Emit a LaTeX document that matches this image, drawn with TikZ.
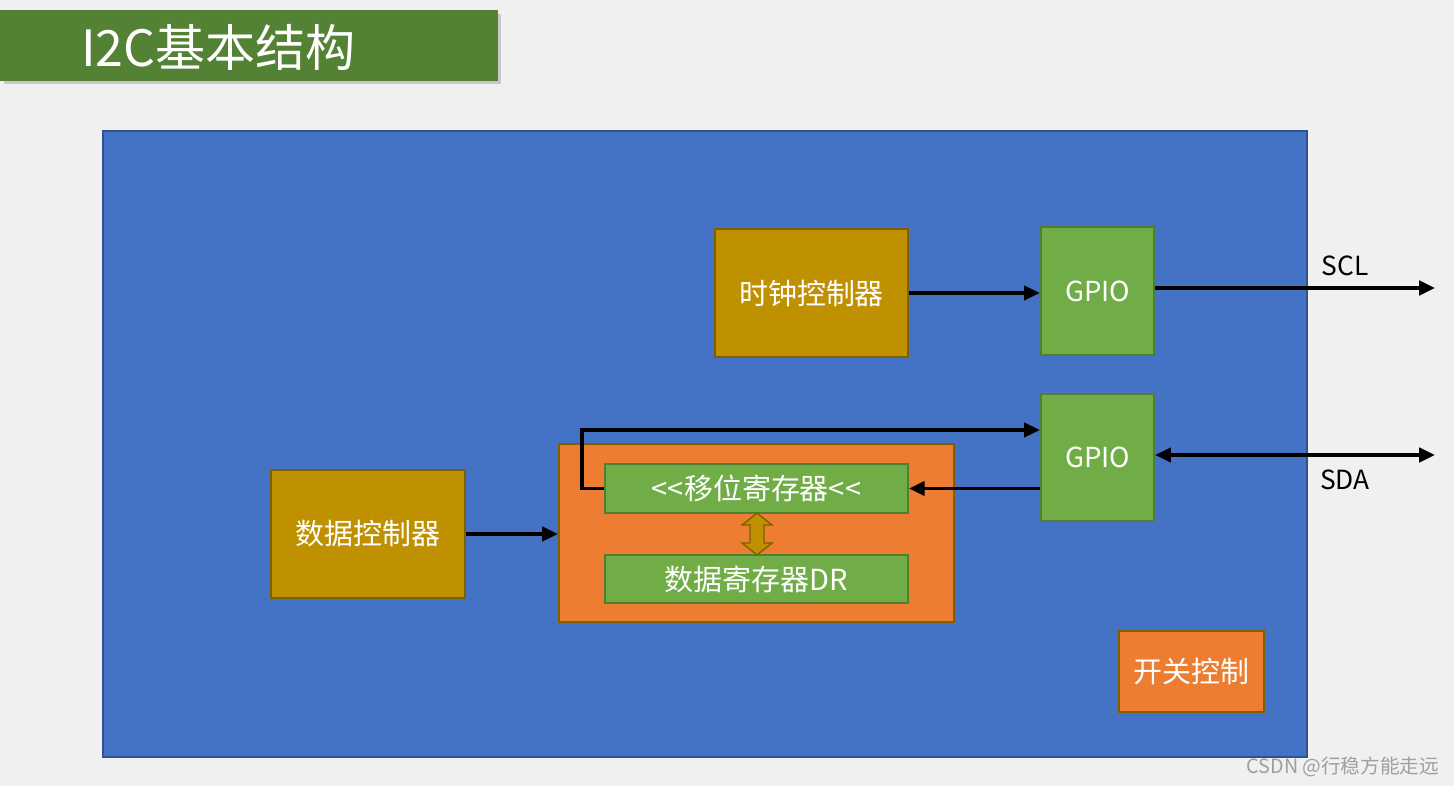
\documentclass[tikz,border=0pt]{standalone}
\usepackage{fontspec}
\setmainfont{Noto Sans CJK SC}
\usetikzlibrary{arrows.meta,shadows}

\definecolor{pagegray}{HTML}{F0F0F0}
\definecolor{titlegreen}{HTML}{548235}
\definecolor{chipblue}{HTML}{4472C4}
\definecolor{chipedge}{HTML}{2F528F}
\definecolor{ctlgold}{HTML}{BF9000}
\definecolor{ctledge}{HTML}{7F6000}
\definecolor{regorange}{HTML}{ED7D31}
\definecolor{gpiogreen}{HTML}{70AD47}
\definecolor{gpioedge}{HTML}{507E32}

\tikzset{
  ctlbox/.style={shape=rectangle, fill=ctlgold, draw=ctledge, line width=1.2pt, text=white, font=\fontsize{16.5}{19}\selectfont},
  gpiobox/.style={shape=rectangle, fill=gpiogreen, draw=gpioedge, line width=1.2pt, text=white, font=\fontsize{15.7}{18}\selectfont, minimum width=2.26cm},
  orangebox/.style={shape=rectangle, fill=regorange, draw=ctledge, line width=1.2pt, text=white, font=\fontsize{16.5}{19}\selectfont},
  regbox/.style={shape=rectangle, fill=gpiogreen, draw=gpioedge, line width=1pt, text=white, font=\fontsize{16.5}{19}\selectfont, minimum width=6.06cm},
  sig/.style={line width=2.2pt, -{Triangle[length=9pt,width=8pt]}},
  bisig/.style={line width=2.2pt, {Triangle[length=9pt,width=8pt]}-{Triangle[length=9pt,width=8pt]}},
  pinlabel/.style={shape=rectangle, draw=none, text=black, font=\fontsize{15}{18}\selectfont}
}

\begin{document}
\begin{tikzpicture}[x=0.02cm, y=-0.02cm]
%%%%%%%%%%%%%%%%%%%%%%%%%%%%%%%%%%%%%%%%%%% HELP LINES
%\draw[help lines] (0,0) grid +(1454,786);

%%%%%%%%%%%%%%%%%%%%%%%%%%%%%%%%%%%%%%%%%%% page and title
\fill[pagegray] (0,0) rectangle (1454,786);
\node[shape=rectangle, fill=titlegreen, draw=none, minimum width=9.96cm, minimum height=1.42cm, drop shadow={shadow xshift=2pt, shadow yshift=-2pt, opacity=0.35}](title) at (249,45.5){};
\node[shape=rectangle, draw=none, text=white, font=\fontsize{28.5}{33}\selectfont, anchor=west](titletext) at (75,47){I2C基本结构};

%%%%%%%%%%%%%%%%%%%%%%%%%%%%%%%%%%%%%%%%%%% chip
\node[shape=rectangle, fill=chipblue, draw=chipedge, line width=1pt, minimum width=24.08cm, minimum height=12.52cm](chip) at (705,444){};

%%%%% controllers and gpio
\node[ctlbox, minimum width=3.86cm, minimum height=2.56cm](clk) at (811.5,293){时钟控制器};
\node[gpiobox, minimum height=2.56cm](gpioscl) at (1097.5,291){GPIO};
\node[gpiobox, minimum height=2.54cm](gpiosda) at (1097.5,457.5){GPIO};
\node[ctlbox, minimum width=3.88cm, minimum height=2.56cm](datactl) at (368,534){数据控制器};

%%%%% registers
\node[orangebox, minimum width=7.9cm, minimum height=3.56cm](regs) at (756.5,533){};
\node[regbox, minimum height=0.98cm](shift) at (756.5,488.5){{<}{<}移位寄存器{<}{<}};
\node[regbox, minimum height=0.96cm](dr) at (756.5,579){数据寄存器DR};
\draw[fill=ctlgold, draw=ctledge, line width=0.8pt] (757,513) -- (772,525) -- (764,525) -- (764,543) -- (772,543) -- (757,555) -- (742,543) -- (750,543) -- (750,525) -- (742,525) -- cycle;

\node[orangebox, minimum width=2.9cm, minimum height=1.62cm](switch) at (1191.5,671.5){开关控制};

%%%%% pins
\coordinate (sclpin) at (1435,288);
\coordinate (sdapin) at (1435,455);
\node[pinlabel](scllabel) at (1345,266){SCL};
\node[pinlabel](sdalabel) at (1345,480){SDA};

%%%%%%%%%%%%%%%%%%%%%%%%%%%%%%%%%%%%%%%%%%% connectors
\draw[sig] (clk.east) -- (clk.east -| gpioscl.west);
\draw[sig] (gpioscl.east |- sclpin) -- (sclpin);
\draw[bisig] (gpiosda.east |- sdapin) -- (sdapin);
\draw[sig] (datactl.east) -- (datactl.east -| regs.west);
\draw[sig] (gpiosda.west |- shift.east) -- (shift.east);
\draw[sig] (shift.west) -- ++(-22,0) |- ([yshift=0.55cm]gpiosda.west);

%%%%% watermark
\node[shape=rectangle, draw=none, text=gray!75, font=\fontsize{11.2}{13}\selectfont](mark) at (1343,767){CSDN @行稳方能走远};
\end{tikzpicture}
\end{document}
